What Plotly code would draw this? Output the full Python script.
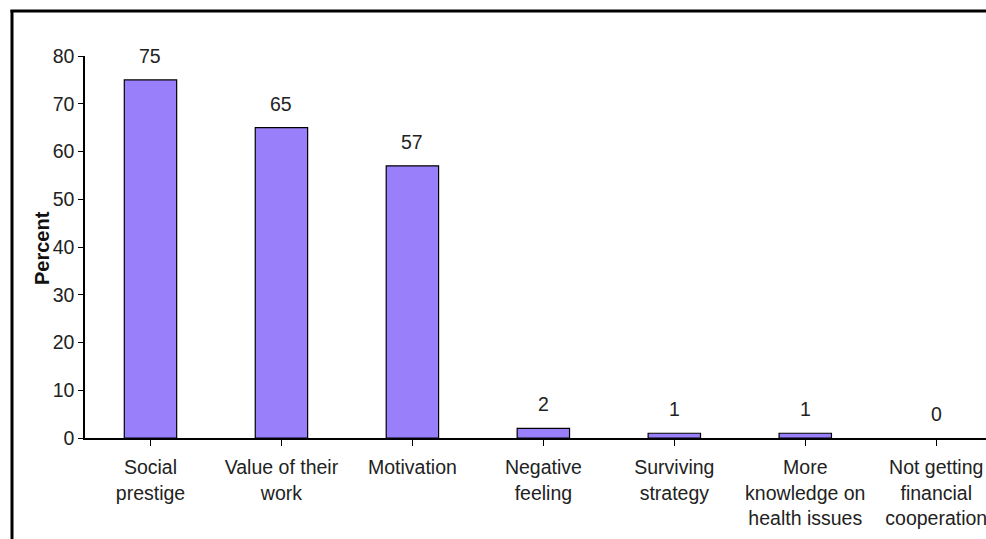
import plotly.graph_objects as go

categories = ["Social<br>prestige", "Value of their<br>work", "Motivation",
              "Negative<br>feeling", "Surviving<br>strategy",
              "More<br>knowledge on<br>health issues",
              "Not getting<br>financial<br>cooperation"]
values = [75, 65, 57, 2, 1, 1, 0]
y_ticks = [0, 10, 20, 30, 40, 50, 60, 70, 80]

W, H = 986, 539
L, R, T, B = 85, 0, 56, 101
pw, ph = W - L - R, H - T - B
FS = 19.5
FONT = "Liberation Sans, Arial"

def px_x(p):
    return (p - L) / pw

def px_y(p):
    return (H - B - p) / ph

xs = list(range(len(categories)))

fig = go.Figure()
fig.add_trace(go.Bar(
    x=xs, y=values, width=0.4,
    marker=dict(color="#9980FA",
                line=dict(color="black", width=[1.2 if v > 0 else 0 for v in values])),
    hoverinfo="skip",
))

for x, v in zip(xs, values):
    fig.add_annotation(x=x, y=v, text=str(v), showarrow=False,
                       yanchor="middle", yshift=24,
                       font=dict(family=FONT, size=FS, color="#222"))

fig.add_annotation(xref="paper", yref="paper", x=px_x(29), y=px_y(248),
                   text="<b>Percent</b>", textangle=-90, showarrow=False,
                   font=dict(family=FONT, size=20, color="#111"))

# frame
fig.add_shape(type="line", xref="paper", yref="paper",
              x0=px_x(12), x1=px_x(12), y0=px_y(10), y1=px_y(545),
              line=dict(color="black", width=3))
fig.add_shape(type="line", xref="paper", yref="paper",
              x0=px_x(10.5), x1=px_x(990), y0=px_y(11), y1=px_y(11),
              line=dict(color="black", width=3))

fig.update_layout(
    width=W, height=H,
    margin=dict(l=L, r=R, t=T, b=B, autoexpand=False),
    plot_bgcolor="white", paper_bgcolor="white",
    showlegend=False,
    font=dict(family=FONT, size=FS, color="#222"),
)
fig.update_xaxes(
    range=[-0.5, 6.38], tickmode="array", tickvals=xs, ticktext=categories,
    tickson="boundaries", ticks="outside", ticklen=6, tickcolor="black",
    showline=True, linecolor="black", linewidth=1.5, showgrid=False,
    zeroline=False, tickfont=dict(size=FS), tickangle=0, ticklabelstandoff=5,
    ticklabeloverflow="allow",
)
fig.update_yaxes(
    range=[0, 80], tickvals=y_ticks, ticks="outside", ticklen=5,
    tickcolor="black", showline=True, linecolor="black", linewidth=1.5,
    showgrid=False, zeroline=False, tickfont=dict(size=FS),
)

fig.write_html("out.html")
